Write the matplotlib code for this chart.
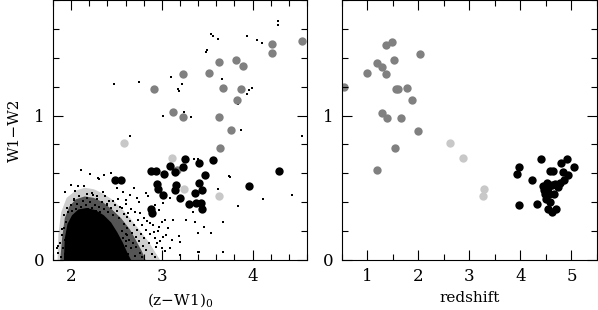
import numpy as np
import matplotlib
matplotlib.use("Agg")
import matplotlib.pyplot as plt

plt.rcParams['font.family'] = ['DejaVu Serif']
plt.rcParams['mathtext.default'] = 'regular'

# ---- left panel: colour-colour ----
# background population: solid core, dense and sparse halo outlines
core_x = [1.92, 1.93, 1.96, 2.01, 2.08, 2.17, 2.27, 2.36, 2.44, 2.51, 2.57, 2.62, 2.66]
core_y = [0.00, 0.15, 0.25, 0.31, 0.35, 0.36, 0.345, 0.31, 0.26, 0.19, 0.12, 0.05, 0.00]

mid_x = [1.88, 1.90, 1.93, 1.98, 2.05, 2.15, 2.25, 2.35, 2.45, 2.55, 2.65, 2.72, 2.78, 2.82]
mid_y = [0.00, 0.15, 0.29, 0.37, 0.42, 0.44, 0.43, 0.40, 0.35, 0.29, 0.21, 0.13, 0.06, 0.00]

far_x = [1.85, 1.86, 1.89, 1.95, 2.05, 2.15, 2.25, 2.35, 2.45, 2.55, 2.65, 2.75, 2.85, 2.93, 2.98]
far_y = [0.00, 0.18, 0.33, 0.43, 0.48, 0.50, 0.49, 0.46, 0.42, 0.36, 0.29, 0.21, 0.13, 0.05, 0.00]

# scattered background points
bg_x = [1.92, 1.95, 1.97, 2.00, 2.01, 2.03, 2.05, 2.06, 2.08, 2.09, 2.11, 2.13, 2.14, 2.16,
        2.18, 2.19, 2.21, 2.23, 2.24, 2.26, 2.27, 2.29, 2.31, 2.32, 2.34, 2.36, 2.37, 2.39,
        2.41, 2.42, 2.44, 2.46, 2.48, 2.50, 2.52, 2.53, 2.56, 2.58, 2.60, 2.62, 2.66, 2.70,
        2.58, 2.60, 2.61, 2.62, 2.63, 2.64, 2.65, 2.66, 2.67, 2.68, 2.69, 2.70, 2.71, 2.72,
        2.73, 2.74, 2.75, 2.76, 2.77, 2.78, 2.79, 2.80, 2.82, 2.83, 2.84, 2.86, 2.87, 2.89,
        2.90, 2.92, 2.94, 2.96, 2.98, 3.00, 3.03, 3.05,
        2.57, 2.59, 2.60, 2.56, 2.62,
        1.86, 1.88, 1.89, 1.90, 1.91, 1.92, 1.93, 1.94, 1.93, 1.95, 1.85,
        1.93, 2.00, 2.04, 2.08, 2.14, 2.17, 2.23, 2.28, 2.35, 2.11, 2.21, 2.305, 2.36, 2.436,
        2.30, 2.03, 2.40, 2.46, 2.54, 2.61, 2.63, 2.69, 2.727, 2.82, 2.843, 2.763, 2.80, 2.872,
        2.927, 2.974, 3.017, 3.09, 3.036, 3.127, 3.27, 2.963, 3.07, 2.91, 3.017, 3.19, 3.20,
        3.11, 3.40, 2.945, 2.853, 3.00, 3.09, 3.20, 3.40, 2.927, 2.78, 3.436, 3.345, 2.57,
        2.50, 2.65, 2.75,
        3.75, 3.62, 4.12, 4.435, 3.835, 3.67, 3.54, 3.67, 3.47, 3.41, 3.37, 3.35, 3.40, 2.654,
        3.017, 3.24, 3.32, 2.477, 2.75, 3.098, 3.218, 3.174, 3.185, 3.545, 3.56, 3.617, 3.50,
        3.486, 3.66, 3.938, 4.05, 4.10, 4.28, 4.276, 3.96, 3.99, 3.944, 3.84, 3.872, 4.548,
        3.745, 1.84, 1.90]
bg_y = [0.31, 0.36, 0.33, 0.38, 0.34, 0.42, 0.35, 0.39, 0.33, 0.44, 0.37, 0.41, 0.34, 0.38,
        0.43, 0.35, 0.40, 0.36, 0.45, 0.38, 0.34, 0.42, 0.37, 0.33, 0.40, 0.35, 0.44, 0.38,
        0.33, 0.41, 0.36, 0.31, 0.38, 0.34, 0.42, 0.29, 0.36, 0.32, 0.39, 0.30, 0.35, 0.33,
        0.25, 0.18, 0.10, 0.22, 0.04, 0.14, 0.27, 0.08, 0.19, 0.12, 0.24, 0.03, 0.16, 0.09,
        0.21, 0.28, 0.13, 0.05, 0.18, 0.24, 0.10, 0.15, 0.21, 0.07, 0.27, 0.12, 0.18, 0.04,
        0.24, 0.15, 0.09, 0.20, 0.13, 0.26, 0.06, 0.17,
        0.15, 0.06, 0.13, 0.20, 0.17,
        0.05, 0.12, 0.02, 0.17, 0.08, 0.22, 0.14, 0.26, 0.04, 0.19, 0.10,
        0.47, 0.52, 0.48, 0.51, 0.51, 0.456, 0.465, 0.44, 0.474, 0.625, 0.597, 0.5625, 0.59, 0.604,
        0.567, 0.417, 0.39, 0.41, 0.37, 0.417, 0.324, 0.498, 0.428, 0.463, 0.444, 0.324, 0.29, 0.255,
        0.382, 0.347, 0.394, 0.428, 0.278, 0.278, 0.278, 0.231, 0.22, 0.197, 0.162, 0.167, 0.127,
        0.139, 0.19, 0.116, 0.116, 0.081, 0.081, 0.035, 0.058, 0.023, 0.023, 0.347, 0.329, 0.47,
        0.50, 0.45, 0.40,
        0.578, 0.493, 0.421, 0.447, 0.375, 0.266, 0.19, 0.058, 0.231, 0.058, 0.26, 0.70, 0.697, 0.861,
        1.0, 1.028, 0.988, 1.218, 1.232, 1.266, 1.215, 1.185, 1.169, 1.565, 1.549, 1.528, 1.456,
        1.4375, 1.25, 1.551, 1.521, 1.502, 1.653, 1.627, 1.18, 1.1875, 1.146, 1.081, 0.90, 0.861,
        0.583, 0.083, 0.215]

gray_zw1 = [2.908, 3.229, 3.516, 3.632, 3.814, 3.894, 3.679, 3.868, 3.825, 3.123, 3.232,
            3.632, 3.767, 3.639, 4.214, 4.21, 4.54, 3.17]
gray_w12 = [1.185, 1.289, 1.294, 1.370, 1.384, 1.340, 1.192, 1.185, 1.111, 1.023, 0.988,
            0.988, 0.898, 0.775, 1.493, 1.43, 1.516, 0.625]

light_zw1 = [2.58, 3.109, 3.243, 3.625]
light_w12 = [0.8125, 0.708, 0.495, 0.444]

black_zw1 = [2.48, 2.55, 2.88, 2.93, 3.02, 3.09, 3.145, 3.235, 3.25, 3.41, 3.565, 3.475,
             2.945, 2.96, 3.01, 3.16, 3.14, 3.41, 3.445, 3.36, 3.195, 3.30, 3.375, 3.43,
             3.445, 2.885, 2.895, 3.965, 4.29]
black_w12 = [0.553, 0.553, 0.615, 0.615, 0.597, 0.648, 0.611, 0.646, 0.701, 0.672, 0.694,
             0.588, 0.525, 0.49, 0.449, 0.52, 0.487, 0.532, 0.482, 0.465, 0.428, 0.387,
             0.394, 0.398, 0.352, 0.352, 0.328, 0.512, 0.616]

# ---- right panel: colour vs redshift ----
gray_z = [0.54, 0.993, 1.19, 1.288, 1.36, 1.353, 1.49, 1.523, 2.026, 1.562, 1.595, 1.784,
          1.882, 1.28, 1.392, 1.654, 1.987, 1.536, 1.183]
gray_w12_r = [1.197, 1.292, 1.366, 1.338, 1.287, 1.491, 1.512, 1.382, 1.428, 1.183, 1.183,
              1.1875, 1.106, 1.021, 0.984, 0.984, 0.896, 0.773, 0.623]

light_z = [2.608, 2.876, 3.281, 3.261]
light_w12_r = [0.808, 0.706, 0.493, 0.442]

black_z = [3.967, 3.941, 3.98, 4.229, 4.32, 4.405, 4.438, 4.451, 4.477, 4.497, 4.53, 4.56,
           4.588, 4.54, 4.608, 4.693, 4.575, 4.64, 4.66, 4.673, 4.739, 4.784, 4.797, 4.837,
           4.85, 4.92, 4.935, 5.052, 4.51, 4.608]
black_w12_r = [0.646, 0.593, 0.382, 0.551, 0.389, 0.699, 0.509, 0.484, 0.454, 0.421, 0.50,
               0.46, 0.40, 0.352, 0.329, 0.352, 0.616, 0.613, 0.46, 0.525, 0.507, 0.53, 0.671,
               0.611, 0.553, 0.697, 0.586, 0.644, 0.53, 0.519]

GRAY = '#808080'
LIGHT = '#c8c8c8'
S = 36

fig = plt.figure(figsize=(5.98, 3.10), dpi=100)
ax1 = fig.add_axes([53/598, 1-260/310, 254/598, 260/310])
ax2 = fig.add_axes([342/598, 1-260/310, 255/598, 260/310])


def style(ax, xmajor, xminor):
    ax.set_ylim(0, 1.8)
    ax.set_xticks(xmajor)
    ax.set_xticks(xminor, minor=True)
    ax.set_yticks([0, 1])
    ax.set_yticks(np.arange(0, 1.81, 0.2), minor=True)
    ax.tick_params(which='both', direction='in', top=True, right=True, width=0.8,
                   labelsize=12, pad=6)
    ax.tick_params(which='major', length=7)
    ax.tick_params(which='minor', length=4)
    for sp in ax.spines.values():
        sp.set_linewidth(0.8)


ax1.fill(far_x, far_y, color='#cdcdcd', lw=0)
ax1.fill(mid_x, mid_y, color='#555555', lw=0)
ax1.fill(core_x, core_y, color='black', lw=0)
ax1.scatter(bg_x, bg_y, s=0.8, marker='s', color='black', linewidths=0)
ax1.scatter(gray_zw1, gray_w12, s=S, color=GRAY, linewidths=0)
ax1.scatter(light_zw1, light_w12, s=S, color=LIGHT, linewidths=0)
ax1.scatter(black_zw1, black_w12, s=S, color='black', linewidths=0)
ax1.set_xlim(1.8, 4.6)
style(ax1, [2, 3, 4], np.arange(1.8, 4.61, 0.2))
ax1.set_xlabel('(z\u2212W1)$_0$', fontsize=11)
ax1.set_ylabel('W1\u2212W2', fontsize=11, labelpad=9)

ax2.scatter(gray_z, gray_w12_r, s=S, color=GRAY, linewidths=0)
ax2.scatter(light_z, light_w12_r, s=S, color=LIGHT, linewidths=0)
ax2.scatter(black_z, black_w12_r, s=S, color='black', linewidths=0)
ax2.set_xlim(0.5, 5.5)
style(ax2, [1, 2, 3, 4, 5], np.arange(0.5, 5.51, 0.5))
ax2.set_xlabel('redshift', fontsize=11)

fig.savefig('out.png', dpi=100)
